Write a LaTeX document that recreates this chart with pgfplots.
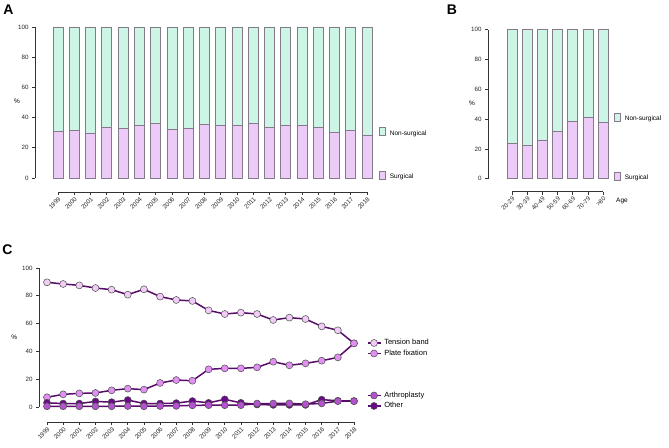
\documentclass[border=0pt]{standalone}
\usepackage{fontspec}
\setmainfont{Liberation Sans}
\usepackage{pgfplots}
\pgfplotsset{compat=1.18}
\definecolor{surg}{HTML}{EDCBF8}
\definecolor{nons}{HTML}{CCF5E5}
\definecolor{baredge}{HTML}{857A8A}
\definecolor{lineC}{HTML}{5A0A6A}
\definecolor{tb}{HTML}{F0CCF7}
\definecolor{pf}{HTML}{E090F0}
\definecolor{ar}{HTML}{B453D0}
\definecolor{ot}{HTML}{6A0A88}
\pgfplotsset{gp/.style={scale only axis, axis lines=left, tick align=outside, major tick length=3pt,
  axis line style={line width=0.6pt, color=black!80, -}, tick style={line width=0.6pt, black!80},
  ticklabel style={font=\fontsize{6.2}{7}\selectfont, text=black!85},
  /pgf/number format/assume math mode=true, clip=false,
  legend cell align=left},
  barleg/.style={legend image code/.code={\draw[##1] (0pt,-2.5pt) rectangle (11pt,2.5pt);}}}
\begin{document}
\begin{tikzpicture}
\path[use as bounding box] (0,0) rectangle (669pt,447pt);
\node[font=\fontsize{14}{14}\selectfont\bfseries] at (8.5pt,437pt) {A};
\node[font=\fontsize{14}{14}\selectfont\bfseries] at (452pt,437pt) {B};
\node[font=\fontsize{14}{14}\selectfont\bfseries] at (7.5pt,197pt) {C};
% Panel A
\begin{axis}[gp, barleg, at={(58pt,269pt)}, anchor=south west, width=309pt, height=151pt,
  xmin=0, xmax=19, ymin=0, ymax=100, ytick={0,20,...,100},
  xtick={0,...,19}, xticklabels={1999,2000,2001,2002,2003,2004,2005,2006,2007,2008,2009,2010,2011,2012,2013,2014,2015,2016,2017,2018},
  xticklabel style={rotate=45, anchor=north east, inner sep=1pt},
  axis x line shift=14pt, axis y line shift=23pt,
  ybar stacked, bar width=10pt,
  ylabel={\%}, every axis y label/.style={at={(axis description cs:-0.133,0.51)}, anchor=center, font=\fontsize{6.5}{7}\selectfont},
  reverse legend,
  legend style={draw=none, fill=none, at={(axis description cs:1.039,0.157)}, anchor=west, row sep=32.8pt, inner sep=0pt, column sep=3pt,
    nodes={font=\fontsize{6.5}{8}\selectfont, inner sep=1pt, text height=5pt, text depth=1.2pt}}]
\addplot[fill=surg, draw=baredge, line width=0.6pt] coordinates {(0,31) (1,31.6) (2,29.8) (3,33.8) (4,33.1) (5,34.9) (6,36) (7,32) (8,32.9) (9,35.5) (10,34.9) (11,34.9) (12,36.4) (13,33.6) (14,34.9) (15,35.1) (16,33.8) (17,30) (18,31.6) (19,28.3)};
\addlegendentry{Surgical}
\addplot[fill=nons, draw=baredge, line width=0.6pt] coordinates {(0,69) (1,68.4) (2,70.2) (3,66.2) (4,66.9) (5,65.1) (6,64) (7,68) (8,67.1) (9,64.5) (10,65.1) (11,65.1) (12,63.6) (13,66.4) (14,65.1) (15,64.9) (16,66.2) (17,70) (18,68.4) (19,71.7)};
\addlegendentry{Non-surgical}
\end{axis}
% Panel B
\begin{axis}[gp, barleg, at={(512pt,268.3pt)}, anchor=south west, width=91pt, height=149pt,
  xmin=0, xmax=6, ymin=0, ymax=100, ytick={0,20,...,100},
  xtick={0,...,6}, xticklabels={20-29,30-39,40-49,50-59,60-69,70-79,>80},
  xticklabel style={rotate=45, anchor=north east, inner sep=1pt},
  axis x line shift=13pt, axis y line shift=24pt,
  ybar stacked, bar width=10pt,
  ylabel={\%}, every axis y label/.style={at={(axis description cs:-0.44,0.508)}, anchor=center, font=\fontsize{6.5}{7}\selectfont},
  xlabel={Age}, every axis x label/.style={at={(axis description cs:1.209,-0.15)}, anchor=center, font=\fontsize{6.5}{7}\selectfont},
  reverse legend,
  legend style={draw=none, fill=none, at={(axis description cs:1.121,0.21)}, anchor=west, row sep=48.5pt, inner sep=0pt, column sep=3pt,
    nodes={font=\fontsize{6.5}{8}\selectfont, inner sep=1pt, text height=5pt, text depth=1.2pt}}]
\addplot[fill=surg, draw=baredge, line width=0.6pt] coordinates {(0,23.7) (1,22.1) (2,26) (3,32) (4,38.7) (5,41) (6,38)};
\addlegendentry{Surgical}
\addplot[fill=nons, draw=baredge, line width=0.6pt] coordinates {(0,76.3) (1,77.9) (2,74) (3,68) (4,61.3) (5,59) (6,62)};
\addlegendentry{Non-surgical}
\end{axis}
% Panel C
\begin{axis}[gp, at={(47pt,40pt)}, anchor=south west, width=307pt, height=139pt,
  xmin=0, xmax=19, ymin=0, ymax=100, ytick={0,20,...,100},
  xtick={0,...,19}, xticklabels={1999,2000,2001,2002,2003,2004,2005,2006,2007,2008,2009,2010,2011,2012,2013,2014,2015,2016,2017,2018},
  xticklabel style={rotate=45, anchor=north east, inner sep=1pt},
  axis x line shift=15pt, axis y line shift=8pt,
  ylabel={\%}, every axis y label/.style={at={(axis description cs:-0.107,0.504)}, anchor=center, font=\fontsize{6.5}{7}\selectfont},
  legend image code/.code={\draw[mark repeat=2,mark phase=2,#1] plot coordinates {(0pt,0pt) (6.5pt,0pt) (13pt,0pt)};},
  legend style={draw=none, fill=none, at={(axis description cs:1.041,0.234)}, anchor=west, row sep=1.5pt, inner sep=0pt, column sep=2pt,
    nodes={font=\fontsize{7.5}{9}\selectfont, inner sep=1pt, text height=5.5pt, text depth=1.5pt}},
  every axis plot/.append style={line width=1.5pt, color=lineC, mark=*, mark size=3.5pt}]
\addplot[mark options={fill=tb, draw=black!70, line width=0.5pt}] coordinates {(0,89.7) (1,88.5) (2,87.5) (3,85.6) (4,84.4) (5,80.8) (6,84.7) (7,79.4) (8,77) (9,76.3) (10,69.5) (11,66.9) (12,67.9) (13,66.9) (14,62.6) (15,64.3) (16,63.3) (17,58) (18,55.2) (19,45.8)};
\addlegendentry{Tension band}
\addplot[mark options={fill=pf, draw=black!70, line width=0.5pt}] coordinates {(0,7) (1,9.1) (2,9.8) (3,10.1) (4,12) (5,13.2) (6,12.5) (7,17.3) (8,19.4) (9,18.9) (10,27.1) (11,27.8) (12,27.8) (13,28.5) (14,32.6) (15,30) (16,31.4) (17,33.3) (18,35.7) (19,45.8)};
\addlegendentry{Plate fixation}
\addlegendimage{empty legend}\addlegendentry{}
\addlegendimage{empty legend}\addlegendentry{}
\addlegendimage{empty legend}\addlegendentry{}
\addplot[mark options={fill=ot, draw=black!70, line width=0.5pt}, forget plot] coordinates {(0,3) (1,2.5) (2,2.5) (3,4) (4,3.5) (5,5) (6,2.5) (7,2.5) (8,2.8) (9,4.3) (10,3) (11,5.5) (12,3) (13,1.8) (14,1.5) (15,1.5) (16,1.5) (17,5.3) (18,4.5) (19,4.3)};
\addplot[mark options={fill=ar, draw=black!70, line width=0.5pt}] coordinates {(0,0.5) (1,0.5) (2,0.5) (3,0.5) (4,0.5) (5,0.7) (6,0.5) (7,0.7) (8,0.8) (9,1.2) (10,1.3) (11,1.3) (12,1.3) (13,2.5) (14,2.5) (15,2.6) (16,2.0) (17,2.6) (18,4.2) (19,4.2)};
\addlegendentry{Arthroplasty}
\addlegendimage{line width=1.5pt, color=lineC, mark=*, mark size=3.5pt, mark options={fill=ot, draw=black!70, line width=0.5pt}}
\addlegendentry{Other}
\end{axis}
\end{tikzpicture}
\end{document}
